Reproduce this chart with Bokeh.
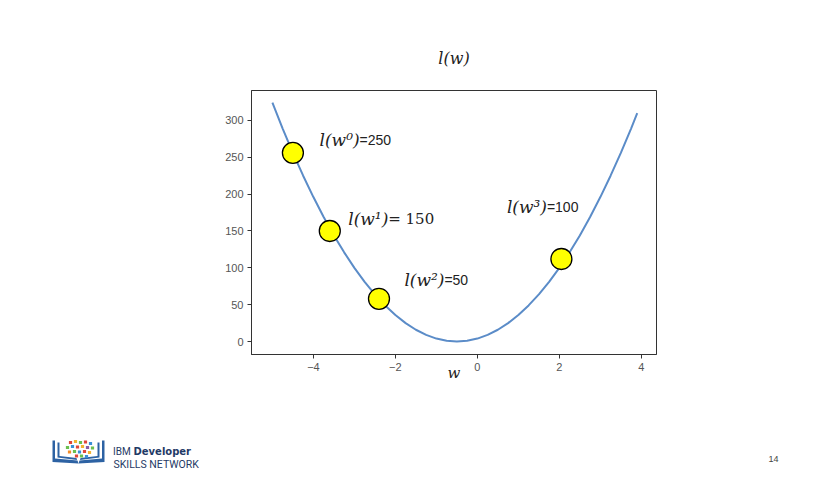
from bokeh.plotting import figure
from bokeh.layouts import column
from bokeh.models import Range1d, FixedTicker, ColumnDataSource
from bokeh.core.properties import value
from bokeh.embed import file_html
from bokeh.resources import INLINE

# ---- data ----
curve_w = [-5.0, -4.75, -4.5, -4.25, -4.0, -3.75, -3.5, -3.25, -3.0, -2.75, -2.5, -2.25,
           -2.0, -1.75, -1.5, -1.25, -1.0, -0.75, -0.5, -0.25, 0.0, 0.25, 0.5, 0.75,
           1.0, 1.25, 1.5, 1.75, 2.0, 2.25, 2.5, 2.75, 3.0, 3.25, 3.5, 3.75, 3.9]
curve_l = [324, 289, 256, 225, 196, 169, 144, 121, 100, 81, 64, 49,
           36, 25, 16, 9, 4, 1, 0, 1, 4, 9, 16, 25,
           36, 49, 64, 81, 100, 121, 144, 169, 196, 225, 256, 289, 310]
point_w = [-4.5, -3.6, -2.4, 2.05]
point_l = [256, 150, 58, 112]
label_math = ["l(w\u2070)", "l(w\u00b9)", "l(w\u00b2)", "l(w\u00b3)"]
label_vals = ["=250", "= 150", "=50", "=100"]
label_w = [-3.85, -3.15, -1.78, 0.72]
label_l = [273, 166, 83, 182]
x_ticks = [-4, -2, 0, 2, 4]
y_ticks = [0, 50, 100, 150, 200, 250, 300]
title_text = "l(w)"
xlabel_text = "w"
page_number = "14"

W = 814
H_MAIN, H_FOOT = 400, 70
p = figure(width=W, height=H_MAIN, output_backend="svg", toolbar_location=None,
           x_range=Range1d(-5.51, 4.37), y_range=Range1d(-17.6, 340.6),
           min_border_left=251, min_border_right=158, min_border_top=90, min_border_bottom=46,
           background_fill_color="white", border_fill_color="white")
p.frame_align = False
p.xgrid.visible = False
p.ygrid.visible = False
p.outline_line_color = "#333333"
p.outline_line_width = 1

p.title.text = title_text
p.title.align = "center"
p.title.text_font = "DejaVu Serif"
p.title.text_font_style = "italic"
p.title.text_font_size = "16px"
p.title.text_color = "#222222"
p.title.standoff = 46

p.xaxis.ticker = FixedTicker(ticks=x_ticks)
p.yaxis.ticker = FixedTicker(ticks=y_ticks)
p.xaxis.major_label_overrides = {t: (str(t).replace("-", "\u2212")) for t in x_ticks}
for ax in (p.xaxis, p.yaxis):
    ax.axis_line_color = "#333333"
    ax.major_tick_line_color = "#333333"
    ax.major_tick_in = 0
    ax.major_tick_out = 4
    ax.minor_tick_line_color = None
    ax.major_label_text_font = "Liberation Sans"
    ax.major_label_text_font_size = "11px"
    ax.major_label_text_color = "#555555"
    ax.major_label_standoff = 4
p.xaxis.axis_label = xlabel_text
p.xaxis.axis_label_text_font = "DejaVu Serif"
p.xaxis.axis_label_text_font_style = "italic"
p.xaxis.axis_label_text_font_size = "15px"
p.xaxis.axis_label_text_color = "#222222"
p.xaxis.axis_label_standoff = -10

p.line(curve_w, curve_l, line_color="#5b8cc8", line_width=2)
p.scatter(point_w, point_l, size=21, fill_color="#ffff00", line_color="black", line_width=1.3)

src = ColumnDataSource(dict(
    x=label_w, y=label_l, math=label_math, vals=label_vals,
    vfont=["Liberation Sans", "DejaVu Serif", "Liberation Sans", "Liberation Sans"],
    vsize=["14px", "15px", "14px", "14px"],
))
p.text(x="x", y="y", text="math", source=src, text_font=value("DejaVu Serif"),
       text_font_style="italic", text_font_size="17px", text_baseline="middle",
       text_color="#222222")
p.text(x="x", y="y", text="vals", source=src, x_offset=40, text_font="vfont",
       text_font_size="vsize", text_baseline="middle", text_color="#222222")

# ---- footer (slide decoration), coordinates are page pixels ----
f = figure(width=W, height=H_FOOT, output_backend="svg", toolbar_location=None,
           x_range=Range1d(0, W), y_range=Range1d(400 + H_FOOT, 400),
           min_border=0, background_fill_color="white", border_fill_color="white")
f.frame_align = False
f.axis.visible = False
f.grid.visible = False
f.outline_line_color = None

navy = "#1f3a66"
f.text(x=[112.5], y=[450.5], text=["IBM"], text_font=value("Roboto"), text_font_size="10px",
       text_baseline="middle", text_color=navy)
f.text(x=[133], y=[450.5], text=["Developer"], text_font=value("DejaVu Sans"),
       text_font_style="bold", text_font_size="10px", text_baseline="middle", text_color=navy)
f.text(x=[113], y=[463.7], text=["SKILLS NETWORK"], text_font=value("Roboto"),
       text_font_size="10.5px", text_baseline="middle", text_color=navy)
f.text(x=[773], y=[458], text=[page_number], text_font=value("Liberation Sans"),
       text_font_size="9px", text_align="center", text_baseline="middle", text_color="#444444")

book = "#2d62a3"
f.patches(
    xs=[[52, 54.5, 54.5, 77, 78, 52], [104, 101.5, 101.5, 79, 78, 104],
        [57, 59, 59, 76, 76.5, 57], [99, 97, 97, 80, 79.5, 99]],
    ys=[[440, 440, 458, 460, 463, 461.5], [440, 440, 458, 460, 463, 461.5],
        [442, 442, 455.5, 457.5, 459.5, 457], [442, 442, 455.5, 457.5, 459.5, 457]],
    fill_color=book, line_color=None)
sq_x = [70, 75, 80, 85, 90, 67, 72, 77, 82, 87, 92, 69, 74, 79, 84, 89, 76, 81, 86]
sq_y = [442, 441, 442, 441.5, 443, 447, 446, 446.5, 446, 447, 447.5, 451.5, 451, 451.5, 451, 452,
        455.5, 455.5, 456]
sq_c = ["#e0463a", "#f2b233", "#6cbf4f", "#e0463a", "#3a8fd6", "#6cbf4f", "#3a8fd6", "#e0463a",
        "#f2b233", "#8a5fa6", "#6cbf4f", "#f28c28", "#6cbf4f", "#3a8fd6", "#e0463a", "#f2b233",
        "#e0463a", "#6cbf4f", "#3a8fd6"]
f.rect(x=sq_x, y=sq_y, width=3.2, height=3.2, fill_color=sq_c, line_color=None)

layout = column(p, f, spacing=0)
open("out.html", "w").write(file_html(layout, INLINE))
